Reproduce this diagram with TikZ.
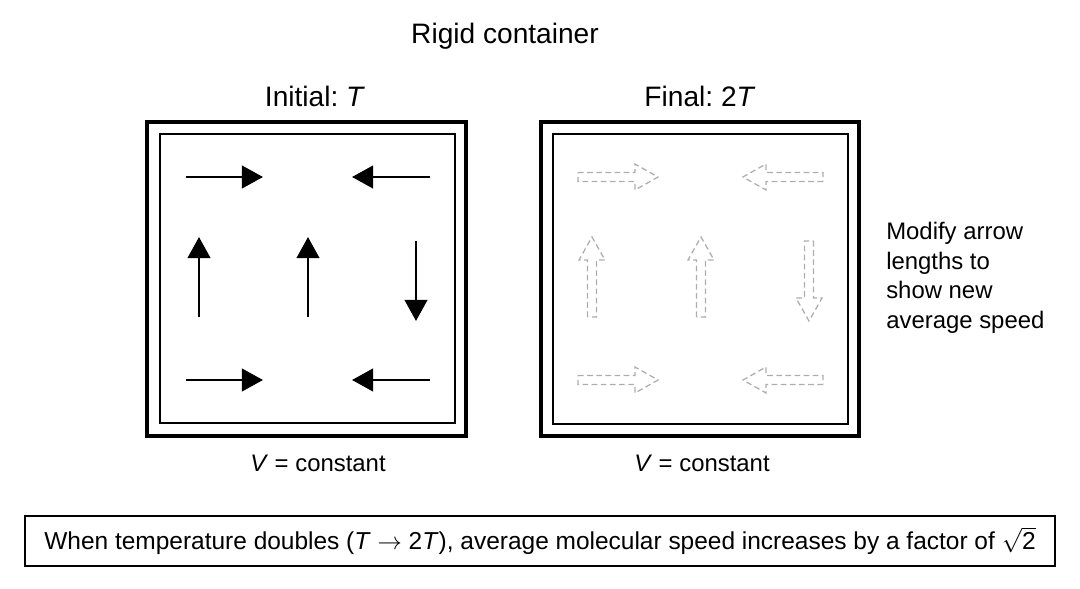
\documentclass[tikz,border=0pt]{standalone}
\usepackage{amsmath}
\usepackage{fontspec}
\setmainfont{Liberation Sans}
\usetikzlibrary{arrows.meta}
\frenchspacing

\begin{document}
\begin{tikzpicture}[
        x=0.025cm,
        y=-0.025cm,
        outer wall/.style={line width=2.8pt},
        inner wall/.style={line width=1.9pt},
        slow molecule/.style={
            line width=1.9pt,-{Triangle[length=15pt,width=16pt]}
        },
        label text/.style={font=\fontsize{17}{21}\selectfont},
        heading text/.style={font=\fontsize{20}{24}\selectfont},
        fast molecule/.pic={
            \draw[black!32,line width=0.9pt,dash pattern=on 4pt off 2.5pt]
                (0,-4.5) -- (57,-4.5) -- (57,-13) -- (80,0)
                -- (57,13) -- (57,4.5) -- (0,4.5) -- cycle;
        }
    ]
        \useasboundingbox (0,0) rectangle (1080,589);

        % Headings above the two containers.
        \node[heading text] (title) at (505,36) {Rigid container};
        \node[heading text] (initial) at (315,96) {Initial: \textit{T}};
        \node[heading text] (final) at (700,96) {Final: 2\textit{T}};

        % The container at temperature T.
        \draw[outer wall] (147,122) rectangle (466,436);
        \draw[inner wall] (160,134) rectangle (455,423);
        \draw[slow molecule] (186,177) -- (263,177);
        \draw[slow molecule] (430,177) -- (352,177);
        \draw[slow molecule] (199,317) -- (199,237);
        \draw[slow molecule] (308,317) -- (308,237);
        \draw[slow molecule] (416,241) -- (416,321);
        \draw[slow molecule] (186,380) -- (263,380);
        \draw[slow molecule] (430,380) -- (352,380);
        \node[label text] (vleft) at (318,463) {\textit{V} = constant};

        % The container at temperature 2T, arrows left to be resized.
        \draw[outer wall] (541,122) rectangle (859,436);
        \draw[inner wall] (553,134) rectangle (848,424);
        \pic at (578,177) {fast molecule};
        \pic[rotate=180] at (823,177) {fast molecule};
        \pic[rotate=90] at (592,317) {fast molecule};
        \pic[rotate=90] at (701,317) {fast molecule};
        \pic[rotate=-90] at (809,241) {fast molecule};
        \pic at (578,380) {fast molecule};
        \pic[rotate=180] at (823,380) {fast molecule};
        \node[label text] (vright) at (702,463) {\textit{V} = constant};

        % Side note.
        \node[label text,anchor=north west,align=left,inner sep=0pt]
            (note) at (886,222)
            {Modify arrow\\lengths to\\show new\\average speed};

        % Summary line.
        \node[draw,line width=1.5pt,minimum width=25.75cm,minimum height=1.25cm,
              font=\fontsize{17.4}{21}\selectfont] (summary) at (540,541)
            {When temperature doubles (\textit{T} $\rightarrow$ 2\textit{T}),
             average molecular speed increases by a factor of
             $\sqrt{\text{2}}$};
\end{tikzpicture}
\end{document}
